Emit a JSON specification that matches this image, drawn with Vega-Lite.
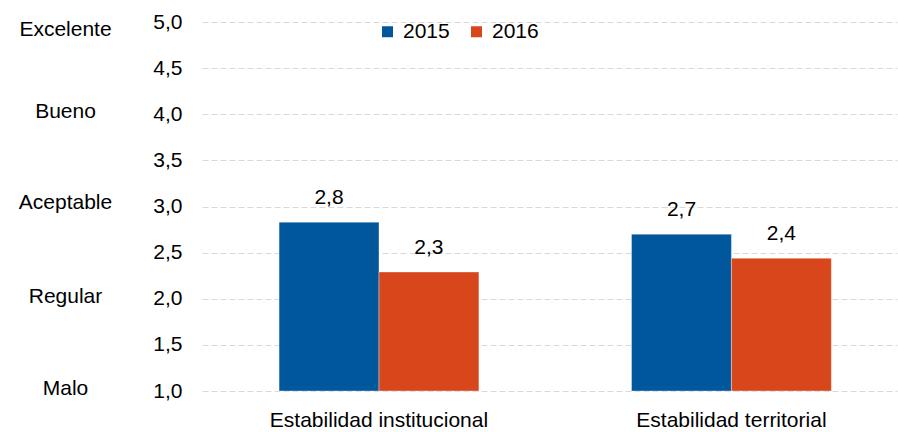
{
  "$schema": "https://vega.github.io/schema/vega-lite/v6.json",
  "width": 695,
  "height": 369,
  "autosize": {"type": "none"},
  "padding": {"left": 202, "top": 22, "right": 1, "bottom": 41},
  "background": "white",
  "config": {
    "view": {"stroke": null},
    "font": "Liberation Sans",
    "text": {"font": "Liberation Sans"},
    "axis": {"labelFont": "Liberation Sans", "labelColor": "#000000"},
    "legend": {"labelFont": "Liberation Sans"}
  },
  "data": {
    "values": [
      {"categoria": "Estabilidad institucional", "anio": "2015", "valor": 2.83, "etiqueta": "2,8"},
      {"categoria": "Estabilidad institucional", "anio": "2016", "valor": 2.29, "etiqueta": "2,3"},
      {"categoria": "Estabilidad territorial", "anio": "2015", "valor": 2.7, "etiqueta": "2,7"},
      {"categoria": "Estabilidad territorial", "anio": "2016", "valor": 2.44, "etiqueta": "2,4"}
    ]
  },
  "encoding": {
    "x": {
      "field": "categoria",
      "type": "nominal",
      "sort": null,
      "title": null,
      "scale": {"paddingInner": 0.433, "paddingOuter": 0.2025, "align": 0.54},
      "axis": {
        "labelAngle": 0,
        "labelFontSize": 21,
        "labelPadding": 18,
        "labelLimit": 0,
        "ticks": false,
        "domain": false,
        "grid": false
      }
    },
    "xOffset": {"field": "anio", "type": "nominal", "scale": {"paddingInner": 0, "paddingOuter": 0}}
  },
  "layer": [
    {
      "mark": {"type": "bar", "stroke": "#ffffff", "strokeWidth": 0.6, "strokeOpacity": 0.6},
      "encoding": {
        "y": {
          "field": "valor",
          "type": "quantitative",
          "title": null,
          "scale": {"domain": [1, 5], "zero": false, "nice": false},
          "axis": {
            "values": [1, 1.5, 2, 2.5, 3, 3.5, 4, 4.5, 5],
            "labelExpr": "replace(format(datum.value, '.1f'), '.', ',')",
            "labelFontSize": 21,
            "labelPadding": 20,
            "ticks": false,
            "domain": false,
            "grid": true,
            "gridColor": "#D9D9D9",
            "gridDash": [6, 3],
            "gridWidth": 1.2,
            "orient": "left"
          }
        },
        "y2": {"datum": 1},
        "color": {
          "field": "anio",
          "type": "nominal",
          "title": null,
          "scale": {"domain": ["2015", "2016"], "range": ["#00579C", "#D8471B"]},
          "legend": {
            "orient": "none",
            "legendX": 175,
            "legendY": -1,
            "direction": "horizontal",
            "symbolType": "square",
            "symbolSize": 121,
            "symbolStrokeWidth": 0,
            "labelFontSize": 21,
            "labelOffset": 5,
            "columnPadding": 16,
            "padding": 0
          }
        }
      }
    },
    {
      "mark": {"type": "text", "fontSize": 21, "baseline": "alphabetic", "dy": -18, "color": "#000000"},
      "encoding": {
        "y": {
          "field": "valor",
          "type": "quantitative",
          "title": null,
          "scale": {"domain": [1, 5], "zero": false, "nice": false},
          "axis": {
            "orient": "left",
            "values": [1.03, 2.02, 3.04, 4.03, 4.92],
            "labelExpr": "datum.value < 1.5 ? 'Malo' : datum.value < 2.5 ? 'Regular' : datum.value < 3.5 ? 'Aceptable' : datum.value < 4.5 ? 'Bueno' : 'Excelente'",
            "labelFontSize": 21,
            "labelAlign": "center",
            "labelPadding": 137,
            "ticks": false,
            "domain": false,
            "grid": false
          }
        },
        "text": {"field": "etiqueta"}
      }
    }
  ],
  "resolve": {"axis": {"y": "independent"}}
}
